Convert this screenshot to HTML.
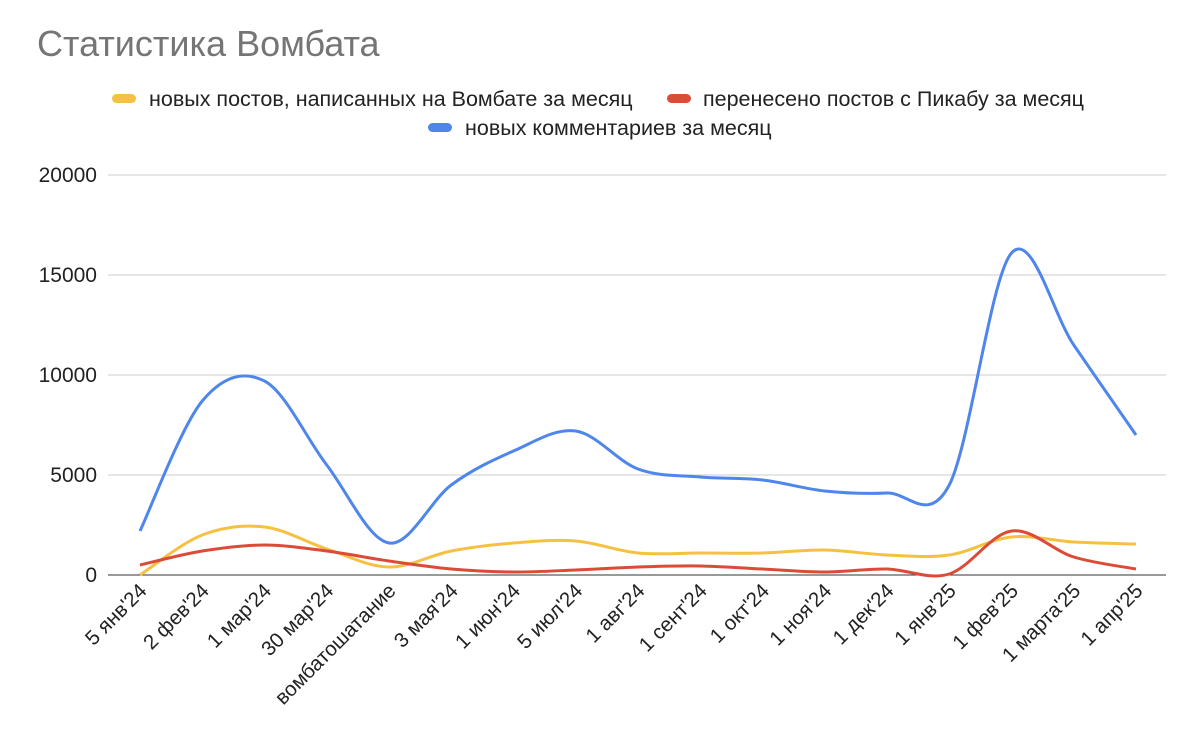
<!DOCTYPE html>
<html><head><meta charset="utf-8"><style>
body{margin:0;background:#fff;font-family:"Liberation Sans",Arial,sans-serif}
svg text{font-family:"Liberation Sans",Arial,sans-serif}
</style></head><body>
<svg id="chart" width="1200" height="749" viewBox="0 0 1200 749" xmlns="http://www.w3.org/2000/svg">
<text x="37" y="56" font-size="36" fill="#757575">Статистика Вомбата</text>
<g font-size="21.5" fill="#222">
<g><rect x="112" y="94" width="24" height="9" rx="4.5" fill="#f6c142"/><text x="149" y="106">новых постов, написанных на Вомбате за месяц</text></g>
<g><rect x="667" y="94" width="24" height="9" rx="4.5" fill="#dc4b37"/><text x="703" y="106">перенесено постов с Пикабу за месяц</text></g>
<g><rect x="428" y="123" width="24" height="9" rx="4.5" fill="#4e86ec"/><text x="465" y="135">новых комментариев за месяц</text></g>
</g>
<g id="grid"></g>
<g id="series"></g>
<g id="xlabels"></g>
</svg>
<script>
const categories=["5 янв'24","2 фев'24","1 мар'24","30 мар'24","вомбатошатание","3 мая'24","1 июн'24","5 июл'24","1 авг'24","1 сент'24","1 окт'24","1 ноя'24","1 дек'24","1 янв'25","1 фев'25","1 марта'25","1 апр'25"];
const newPosts=[0,2000,2400,1300,400,1200,1600,1700,1100,1100,1100,1250,1000,1000,1900,1650,1550];
const movedPosts=[500,1200,1500,1200,700,300,150,250,400,450,300,150,300,50,2200,900,300];
const comments=[2200,8700,9700,5500,1600,4500,6200,7200,5300,4900,4750,4200,4100,4500,16100,11500,7000];
const yTicks=[0,5000,10000,15000,20000];
const NS="http://www.w3.org/2000/svg";
const x0=140,x1=1136,yTop=175,yBot=575,yMax=20000;
const X=i=>x0+(x1-x0)*i/(categories.length-1);
const Y=v=>yBot-(yBot-yTop)*v/yMax;
const grid=document.getElementById('grid');
yTicks.forEach(t=>{
  const l=document.createElementNS(NS,'line');
  
  
  l.setAttribute('x1',108);l.setAttribute('x2',1166);l.setAttribute('y1',Y(t));l.setAttribute('y2',Y(t));
  l.setAttribute('stroke',t===0?'#333':'#ccc');l.setAttribute('stroke-width',1);
  grid.appendChild(l);
  const tx=document.createElementNS(NS,'text');
  
  
  tx.setAttribute('x',97);tx.setAttribute('y',Y(t)+7);tx.setAttribute('text-anchor','end');tx.setAttribute('font-size','21');tx.setAttribute('fill','#222');
  tx.textContent=t;grid.appendChild(tx);
});
function path(vals){
  const p=vals.map((v,i)=>[X(i),Y(v)]);
  let d='M'+p[0][0]+','+p[0][1];
  for(let i=0;i<p.length-1;i++){
    const a=p[i-1]||p[i],b=p[i],c=p[i+1],e=p[i+2]||c;
    const c1=[b[0]+(c[0]-a[0])/6,b[1]+(c[1]-a[1])/6],c2=[c[0]-(e[0]-b[0])/6,c[1]-(e[1]-b[1])/6];
    d+=` C${c1[0]},${c1[1]} ${c2[0]},${c2[1]} ${c[0]},${c[1]}`;
  }
  return d;
}
const ser=document.getElementById('series');
[[newPosts,'#f6c142','line-new-posts'],[movedPosts,'#dc4b37','line-moved-posts'],[comments,'#4e86ec','line-comments']].forEach(s=>{
  const pa=document.createElementNS(NS,'path');
  
  
  pa.setAttribute('d',path(s[0]));pa.setAttribute('fill','none');pa.setAttribute('stroke',s[1]);pa.setAttribute('stroke-width',3);pa.setAttribute('stroke-linejoin','round');
  ser.appendChild(pa);
});
const xl=document.getElementById('xlabels');
categories.forEach((c,i)=>{
  const t=document.createElementNS(NS,'text');
  
  
  const x=X(i)+8,y=592;
  t.setAttribute('x',x);t.setAttribute('y',y);t.setAttribute('text-anchor','end');t.setAttribute('font-size','20.5');t.setAttribute('fill','#222');
  t.setAttribute('transform',`rotate(-45 ${x} ${y})`);
  t.textContent=c;xl.appendChild(t);
});
</script>
</body></html>
